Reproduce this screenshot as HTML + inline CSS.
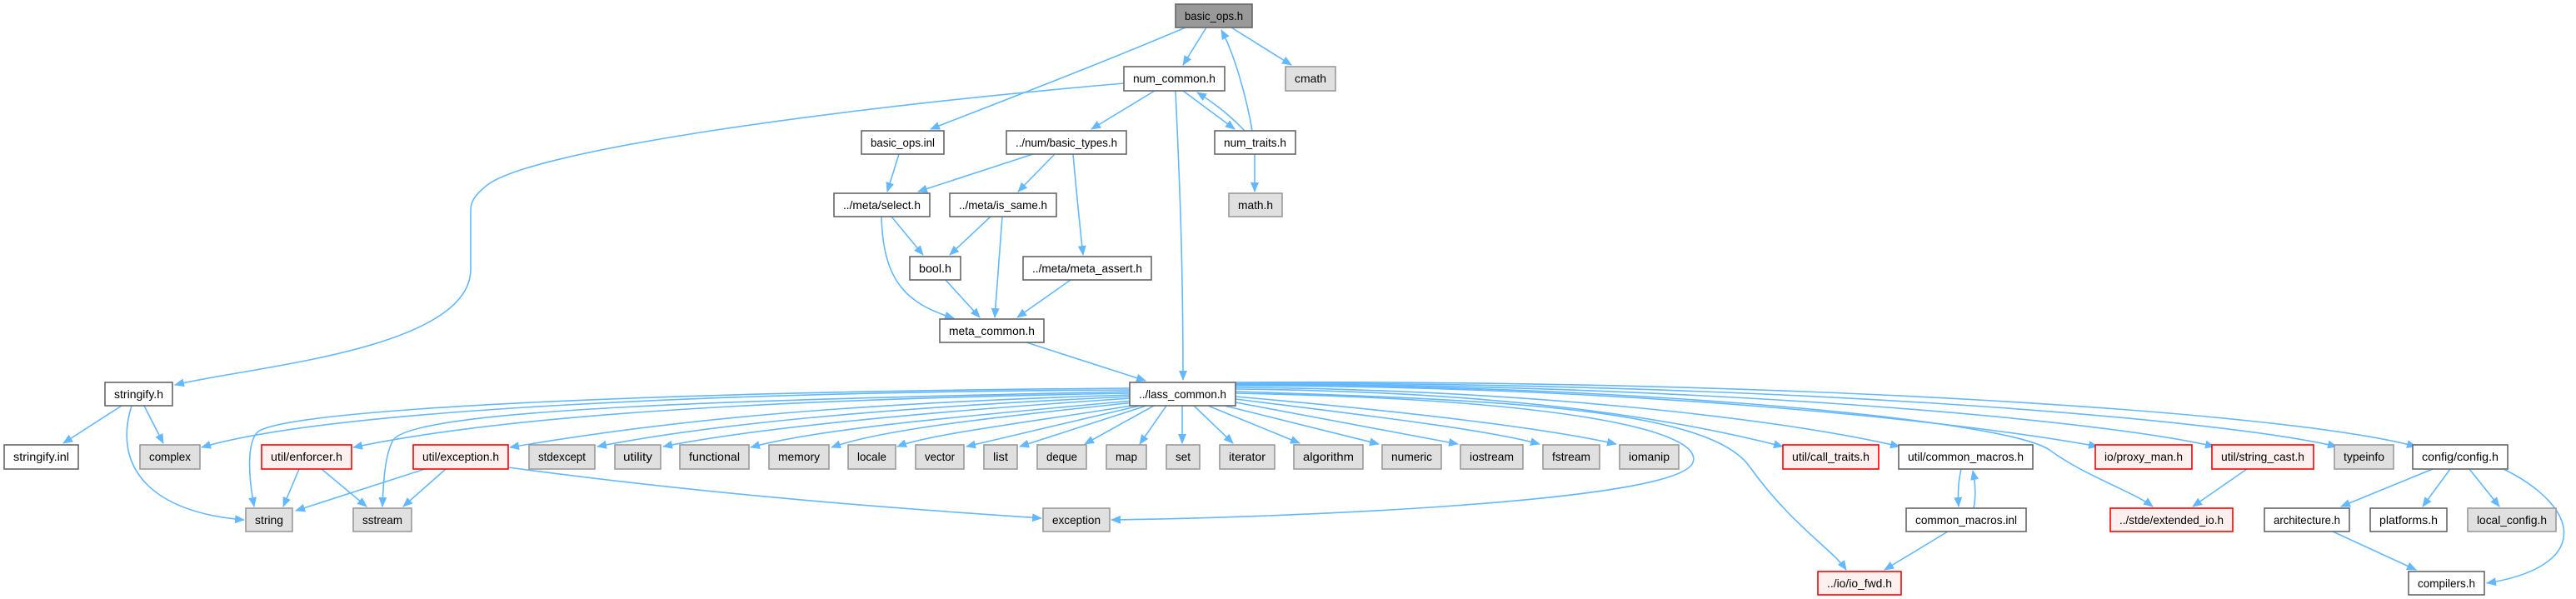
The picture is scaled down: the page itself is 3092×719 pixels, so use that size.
<!DOCTYPE html>
<html><head><meta charset="utf-8"><style>
html,body{margin:0;padding:0;background:#fff;}
svg{display:block;}
text{font-family:"Liberation Sans",sans-serif;font-size:14px;fill:#000;text-anchor:middle;}
.e{fill:none;stroke:#63b8ff;stroke-width:1.6;marker-end:url(#a);}
.n rect{fill:#fff;stroke:#666;stroke-width:1.6;}
.g rect{fill:#e0e0e0;stroke:#999;stroke-width:1.6;}
.r rect{fill:#fff0f0;stroke:#ff0000;stroke-width:1.6;}
.k rect{fill:#999;stroke:#666;stroke-width:1.6;}
</style></head><body>
<svg width="3092" height="719" viewBox="0 0 3092 719" xmlns="http://www.w3.org/2000/svg">
<defs><marker id="a" markerUnits="userSpaceOnUse" markerWidth="12" markerHeight="10" refX="11" refY="5" orient="auto"><path d="M0,0 L12,5 L0,10 Z" fill="#63b8ff"/></marker></defs>
<g>
<path class="e" d="M1448,33 L1420,78"/>
<path class="e" d="M1478,33 L1550,78"/>
<path class="e" d="M1423,33 C1300,85 1180,130 1117,155"/>
<path class="e" d="M1503,157 C1495,110 1480,62 1466,36"/>
<path class="e" d="M1420,109 L1482,155"/>
<path class="e" d="M1494,157 C1475,137 1455,122 1437,111"/>
<path class="e" d="M1506,185 L1506,230"/>
<path class="e" d="M1386,109 L1310,155"/>
<path class="e" d="M1411,109 C1415,200 1420,300 1420,456"/>
<path class="e" d="M1349,100 C1000,130 640,180 585,222 C567,236 565,245 565,252 L565,323 C565,420 300,440 210,462"/>
<path class="e" d="M1079,185 L1065,230"/>
<path class="e" d="M1240,185 L1102,230"/>
<path class="e" d="M1266,185 L1222,230"/>
<path class="e" d="M1288,185 C1292,230 1296,270 1300,306"/>
<path class="e" d="M1070,260 L1108,306"/>
<path class="e" d="M1058,260 C1060,340 1090,365 1145,382"/>
<path class="e" d="M1189,260 L1140,306"/>
<path class="e" d="M1203,260 L1194,381"/>
<path class="e" d="M1135,336 L1176,381"/>
<path class="e" d="M1285,336 L1221,381"/>
<path class="e" d="M1232,411 L1375,457"/>
<path class="e" d="M146,487 L76,532"/>
<path class="e" d="M173,487 L196,532"/>
<path class="e" d="M158,487 C135,560 180,615 293,624"/>
<path class="e" d="M1356,468 C900,470 400,490 242,537"/>
<path class="e" d="M1356,466 C800,470 350,490 310,518 C296,530 298,570 305,608"/>
<path class="e" d="M1356,472 C900,480 600,500 424,537"/>
<path class="e" d="M1356,470 C900,480 500,490 472,528 C462,545 460,580 459,608"/>
<path class="e" d="M1356,474 C1000,485 800,505 612,537"/>
<path class="e" d="M1357,476 C1050,490 850,510 717,536"/>
<path class="e" d="M1358,478 C1100,495 900,515 796,536"/>
<path class="e" d="M1360,481 C1150,500 980,515 901,537"/>
<path class="e" d="M1362,483 C1200,500 1060,515 998,537"/>
<path class="e" d="M1364,486 C1250,505 1120,520 1077,536"/>
<path class="e" d="M1368,487 L1160,536"/>
<path class="e" d="M1376,487 L1224,536"/>
<path class="e" d="M1385,487 L1302,533"/>
<path class="e" d="M1400,487 L1368,533"/>
<path class="e" d="M1419,487 L1419,532"/>
<path class="e" d="M1433,487 L1480,532"/>
<path class="e" d="M1450,487 L1560,532"/>
<path class="e" d="M1470,487 L1655,533"/>
<path class="e" d="M1483,483 L1750,533"/>
<path class="e" d="M1483,479 C1650,500 1780,515 1848,533"/>
<path class="e" d="M1483,476 C1700,495 1860,515 1940,533"/>
<path class="e" d="M1483,472 C1900,480 2045,520 2032,555 C2015,605 1500,622 1334,624"/>
<path class="e" d="M1483,470 C1800,480 2050,490 2100,560 C2150,630 2200,660 2216,684"/>
<path class="e" d="M1483,467 C1800,470 2000,500 2140,536"/>
<path class="e" d="M1483,465 C1850,468 2150,505 2280,536"/>
<path class="e" d="M1483,463 C1950,463 2350,505 2518,536"/>
<path class="e" d="M1483,462 C1900,460 2400,500 2460,540 C2500,570 2560,590 2584,608"/>
<path class="e" d="M1483,461 C2000,460 2500,500 2658,536"/>
<path class="e" d="M1483,460 C2100,458 2650,500 2805,536"/>
<path class="e" d="M1483,459 C2150,455 2750,495 2900,536"/>
<path class="e" d="M359,563 L340,608"/>
<path class="e" d="M386,563 L440,608"/>
<path class="e" d="M510,563 L355,613"/>
<path class="e" d="M535,563 L484,608"/>
<path class="e" d="M610,561 C900,600 1150,615 1250,622"/>
<path class="e" d="M2354,563 C2350,580 2350,595 2351,608"/>
<path class="e" d="M2369,610 C2372,595 2371,580 2368,565"/>
<path class="e" d="M2338,638 L2262,684"/>
<path class="e" d="M2697,563 L2632,608"/>
<path class="e" d="M2920,563 L2810,608"/>
<path class="e" d="M2941,563 L2908,608"/>
<path class="e" d="M2964,563 L3000,608"/>
<path class="e" d="M3005,563 C3100,610 3110,680 2985,700"/>
<path class="e" d="M2800,638 L2900,684"/>
</g>
<g class="k"><rect x="1411" y="5" width="92" height="28"/><text x="1457" y="24" textLength="70" lengthAdjust="spacingAndGlyphs">basic_ops.h</text></g>
<g class="n"><rect x="1349" y="80" width="121" height="29"/><text x="1409.5" y="99" textLength="99" lengthAdjust="spacingAndGlyphs">num_common.h</text></g>
<g class="g"><rect x="1543" y="80" width="60" height="29"/><text x="1573" y="99" textLength="38" lengthAdjust="spacingAndGlyphs">cmath</text></g>
<g class="n"><rect x="1034" y="157" width="99" height="28"/><text x="1083.5" y="176" textLength="77" lengthAdjust="spacingAndGlyphs">basic_ops.inl</text></g>
<g class="n"><rect x="1208" y="157" width="144" height="28"/><text x="1280" y="176" textLength="122" lengthAdjust="spacingAndGlyphs">../num/basic_types.h</text></g>
<g class="n"><rect x="1458" y="157" width="97" height="28"/><text x="1506.5" y="176" textLength="75" lengthAdjust="spacingAndGlyphs">num_traits.h</text></g>
<g class="n"><rect x="1001" y="232" width="115" height="28"/><text x="1058.5" y="251" textLength="93" lengthAdjust="spacingAndGlyphs">../meta/select.h</text></g>
<g class="n"><rect x="1140" y="232" width="128" height="28"/><text x="1204" y="251" textLength="106" lengthAdjust="spacingAndGlyphs">../meta/is_same.h</text></g>
<g class="g"><rect x="1475" y="232" width="64" height="28"/><text x="1507" y="251" textLength="42" lengthAdjust="spacingAndGlyphs">math.h</text></g>
<g class="n"><rect x="1092" y="308" width="61" height="28"/><text x="1122.5" y="327" textLength="39" lengthAdjust="spacingAndGlyphs">bool.h</text></g>
<g class="n"><rect x="1228" y="308" width="154" height="28"/><text x="1305" y="327" textLength="132" lengthAdjust="spacingAndGlyphs">../meta/meta_assert.h</text></g>
<g class="n"><rect x="1128" y="383" width="125" height="28"/><text x="1190.5" y="402" textLength="103" lengthAdjust="spacingAndGlyphs">meta_common.h</text></g>
<g class="n"><rect x="126" y="459" width="81" height="28"/><text x="166.5" y="478" textLength="59" lengthAdjust="spacingAndGlyphs">stringify.h</text></g>
<g class="n"><rect x="1356" y="459" width="127" height="28"/><text x="1419.5" y="478" textLength="105" lengthAdjust="spacingAndGlyphs">../lass_common.h</text></g>
<g class="n"><rect x="5" y="534" width="89" height="29"/><text x="49.5" y="553" textLength="67" lengthAdjust="spacingAndGlyphs">stringify.inl</text></g>
<g class="g"><rect x="168" y="534" width="72" height="29"/><text x="204" y="553" textLength="50" lengthAdjust="spacingAndGlyphs">complex</text></g>
<g class="r"><rect x="314" y="534" width="108" height="29"/><text x="368" y="553" textLength="86" lengthAdjust="spacingAndGlyphs">util/enforcer.h</text></g>
<g class="r"><rect x="496" y="534" width="114" height="29"/><text x="553" y="553" textLength="92" lengthAdjust="spacingAndGlyphs">util/exception.h</text></g>
<g class="g"><rect x="635" y="534" width="79" height="29"/><text x="674.5" y="553" textLength="57" lengthAdjust="spacingAndGlyphs">stdexcept</text></g>
<g class="g"><rect x="738" y="534" width="55" height="29"/><text x="765.5" y="553" textLength="35" lengthAdjust="spacingAndGlyphs">utility</text></g>
<g class="g"><rect x="816" y="534" width="83" height="29"/><text x="857.5" y="553" textLength="61" lengthAdjust="spacingAndGlyphs">functional</text></g>
<g class="g"><rect x="923" y="534" width="72" height="29"/><text x="959" y="553" textLength="50" lengthAdjust="spacingAndGlyphs">memory</text></g>
<g class="g"><rect x="1018" y="534" width="57" height="29"/><text x="1046.5" y="553" textLength="35" lengthAdjust="spacingAndGlyphs">locale</text></g>
<g class="g"><rect x="1099" y="534" width="58" height="29"/><text x="1128" y="553" textLength="36" lengthAdjust="spacingAndGlyphs">vector</text></g>
<g class="g"><rect x="1181" y="534" width="40" height="29"/><text x="1201" y="553" textLength="18" lengthAdjust="spacingAndGlyphs">list</text></g>
<g class="g"><rect x="1245" y="534" width="59" height="29"/><text x="1274.5" y="553" textLength="37" lengthAdjust="spacingAndGlyphs">deque</text></g>
<g class="g"><rect x="1328" y="534" width="48" height="29"/><text x="1352" y="553" textLength="26" lengthAdjust="spacingAndGlyphs">map</text></g>
<g class="g"><rect x="1400" y="534" width="40" height="29"/><text x="1420" y="553" textLength="18" lengthAdjust="spacingAndGlyphs">set</text></g>
<g class="g"><rect x="1464" y="534" width="66" height="29"/><text x="1497" y="553" textLength="44" lengthAdjust="spacingAndGlyphs">iterator</text></g>
<g class="g"><rect x="1553" y="534" width="83" height="29"/><text x="1594.5" y="553" textLength="61" lengthAdjust="spacingAndGlyphs">algorithm</text></g>
<g class="g"><rect x="1659" y="534" width="71" height="29"/><text x="1694.5" y="553" textLength="49" lengthAdjust="spacingAndGlyphs">numeric</text></g>
<g class="g"><rect x="1753" y="534" width="75" height="29"/><text x="1790.5" y="553" textLength="53" lengthAdjust="spacingAndGlyphs">iostream</text></g>
<g class="g"><rect x="1852" y="534" width="68" height="29"/><text x="1886" y="553" textLength="46" lengthAdjust="spacingAndGlyphs">fstream</text></g>
<g class="g"><rect x="1944" y="534" width="71" height="29"/><text x="1979.5" y="553" textLength="49" lengthAdjust="spacingAndGlyphs">iomanip</text></g>
<g class="r"><rect x="2140" y="534" width="115" height="29"/><text x="2197.5" y="553" textLength="93" lengthAdjust="spacingAndGlyphs">util/call_traits.h</text></g>
<g class="n"><rect x="2279" y="534" width="161" height="29"/><text x="2359.5" y="553" textLength="139" lengthAdjust="spacingAndGlyphs">util/common_macros.h</text></g>
<g class="r"><rect x="2515" y="534" width="116" height="29"/><text x="2573" y="553" textLength="94" lengthAdjust="spacingAndGlyphs">io/proxy_man.h</text></g>
<g class="r"><rect x="2655" y="534" width="122" height="29"/><text x="2716" y="553" textLength="100" lengthAdjust="spacingAndGlyphs">util/string_cast.h</text></g>
<g class="g"><rect x="2802" y="534" width="71" height="29"/><text x="2837.5" y="553" textLength="49" lengthAdjust="spacingAndGlyphs">typeinfo</text></g>
<g class="n"><rect x="2896" y="534" width="114" height="29"/><text x="2953" y="553" textLength="92" lengthAdjust="spacingAndGlyphs">config/config.h</text></g>
<g class="g"><rect x="295" y="610" width="56" height="28"/><text x="323" y="629" textLength="34" lengthAdjust="spacingAndGlyphs">string</text></g>
<g class="g"><rect x="424" y="610" width="70" height="28"/><text x="459" y="629" textLength="48" lengthAdjust="spacingAndGlyphs">sstream</text></g>
<g class="g"><rect x="1252" y="610" width="80" height="28"/><text x="1292" y="629" textLength="58" lengthAdjust="spacingAndGlyphs">exception</text></g>
<g class="n"><rect x="2288" y="610" width="144" height="28"/><text x="2360" y="629" textLength="122" lengthAdjust="spacingAndGlyphs">common_macros.inl</text></g>
<g class="r"><rect x="2533" y="610" width="147" height="28"/><text x="2606.5" y="629" textLength="125" lengthAdjust="spacingAndGlyphs">../stde/extended_io.h</text></g>
<g class="n"><rect x="2718" y="610" width="102" height="28"/><text x="2769" y="629" textLength="80" lengthAdjust="spacingAndGlyphs">architecture.h</text></g>
<g class="n"><rect x="2845" y="610" width="92" height="28"/><text x="2891" y="629" textLength="70" lengthAdjust="spacingAndGlyphs">platforms.h</text></g>
<g class="g"><rect x="2962" y="610" width="106" height="28"/><text x="3015" y="629" textLength="84" lengthAdjust="spacingAndGlyphs">local_config.h</text></g>
<g class="r"><rect x="2182" y="686" width="100" height="28"/><text x="2232" y="705" textLength="78" lengthAdjust="spacingAndGlyphs">../io/io_fwd.h</text></g>
<g class="n"><rect x="2891" y="686" width="91" height="28"/><text x="2936.5" y="705" textLength="69" lengthAdjust="spacingAndGlyphs">compilers.h</text></g>
</svg>
</body></html>
